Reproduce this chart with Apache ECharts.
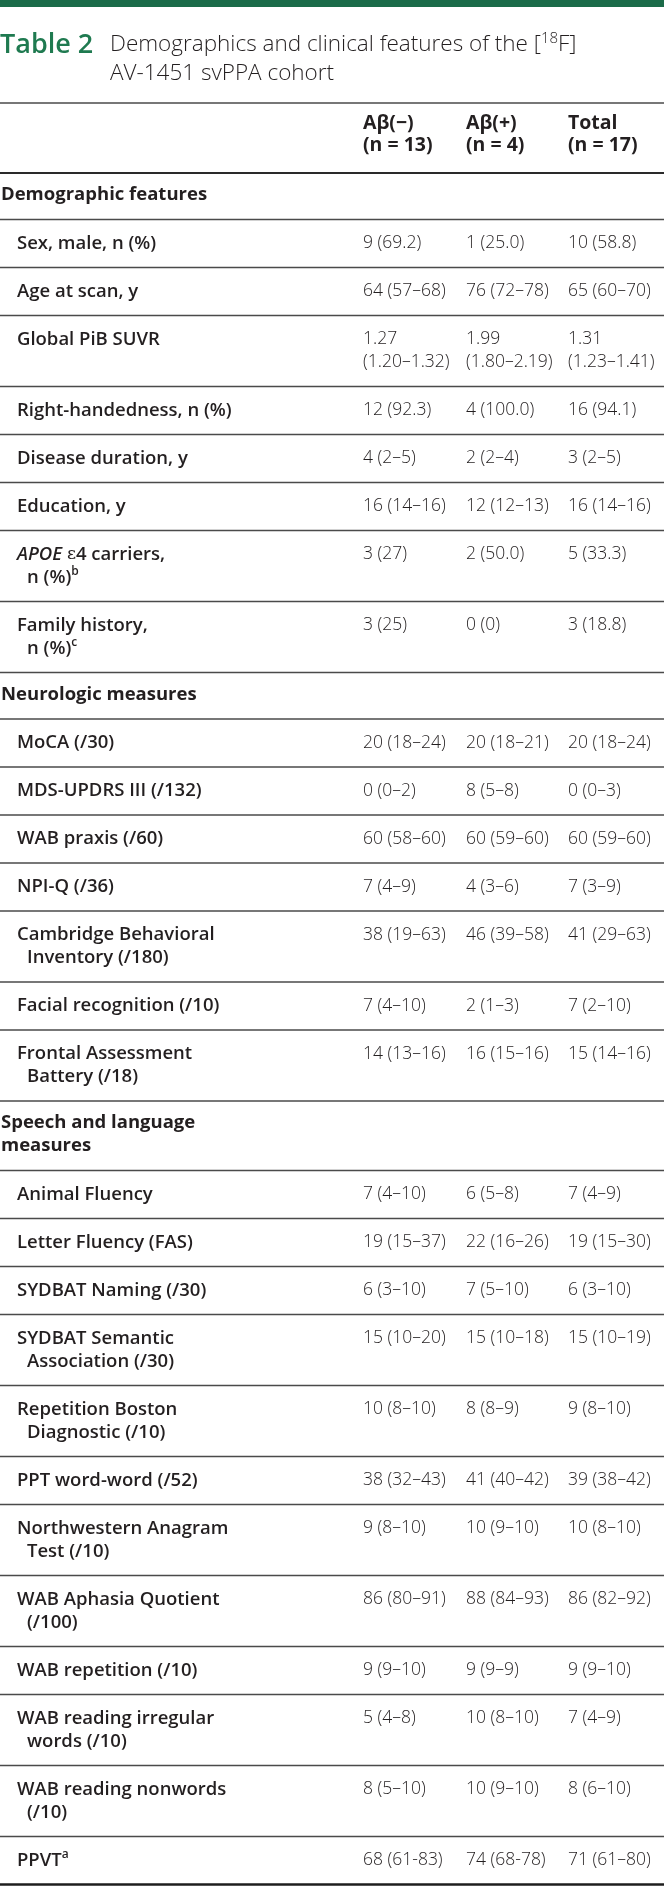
<!DOCTYPE html>
<html>
<head>
<meta charset="utf-8">
<script src="https://cdn.jsdelivr.net/npm/echarts@6/dist/echarts.min.js"></script>
<style>
html,body{margin:0;padding:0;background:#fff;}
#chart{width:664px;height:1886px;}
</style>
</head>
<body>
<div id="chart"></div>
<script>
// ---------------- DATA ----------------
const titleLead = "Table 2";
const titleLine1 = ["Demographics and clinical features of the [", "18", "F]"];
const titleLine2 = "AV-1451 svPPA cohort";

const groupNames = ["Aβ(−)", "Aβ(+)", "Total"];
const groupSizes = ["(n = 13)", "(n = 4)", "(n = 17)"];

const sectionNames = [
  ["Demographic features"],
  ["Neurologic measures"],
  ["Speech and language", "measures"]
];

const itemSection = [0,0,0,0,0,0,0,0, 1,1,1,1,1,1,1, 2,2,2,2,2,2,2,2,2,2,2,2];

const itemLabels = [
  ["Sex, male, n (%)"],
  ["Age at scan, y"],
  ["Global PiB SUVR"],
  ["Right-handedness, n (%)"],
  ["Disease duration, y"],
  ["Education, y"],
  ["APOE ε4 carriers,", "n (%)"],
  ["Family history,", "n (%)"],
  ["MoCA (/30)"],
  ["MDS-UPDRS III (/132)"],
  ["WAB praxis (/60)"],
  ["NPI-Q (/36)"],
  ["Cambridge Behavioral", "Inventory (/180)"],
  ["Facial recognition (/10)"],
  ["Frontal Assessment", "Battery (/18)"],
  ["Animal Fluency"],
  ["Letter Fluency (FAS)"],
  ["SYDBAT Naming (/30)"],
  ["SYDBAT Semantic", "Association (/30)"],
  ["Repetition Boston", "Diagnostic (/10)"],
  ["PPT word-word (/52)"],
  ["Northwestern Anagram", "Test (/10)"],
  ["WAB Aphasia Quotient", "(/100)"],
  ["WAB repetition (/10)"],
  ["WAB reading irregular", "words (/10)"],
  ["WAB reading nonwords", "(/10)"],
  ["PPVT"]
];

const itemNotes = ["","","","","","","b","c","","","","","","","","","","","","","","","","","","","a"];

const abNeg = [
  "9 (69.2)", "64 (57–68)", "1.27\n(1.20–1.32)", "12 (92.3)", "4 (2–5)", "16 (14–16)", "3 (27)", "3 (25)",
  "20 (18–24)", "0 (0–2)", "60 (58–60)", "7 (4–9)", "38 (19–63)", "7 (4–10)", "14 (13–16)",
  "7 (4–10)", "19 (15–37)", "6 (3–10)", "15 (10–20)", "10 (8–10)", "38 (32–43)", "9 (8–10)",
  "86 (80–91)", "9 (9–10)", "5 (4–8)", "8 (5–10)", "68 (61-83)"
];
const abPos = [
  "1 (25.0)", "76 (72–78)", "1.99\n(1.80–2.19)", "4 (100.0)", "2 (2–4)", "12 (12–13)", "2 (50.0)", "0 (0)",
  "20 (18–21)", "8 (5–8)", "60 (59–60)", "4 (3–6)", "46 (39–58)", "2 (1–3)", "16 (15–16)",
  "6 (5–8)", "22 (16–26)", "7 (5–10)", "15 (10–18)", "8 (8–9)", "41 (40–42)", "10 (9–10)",
  "88 (84–93)", "9 (9–9)", "10 (8–10)", "10 (9–10)", "74 (68-78)"
];
const totalAll = [
  "10 (58.8)", "65 (60–70)", "1.31\n(1.23–1.41)", "16 (94.1)", "3 (2–5)", "16 (14–16)", "5 (33.3)", "3 (18.8)",
  "20 (18–24)", "0 (0–3)", "60 (59–60)", "7 (3–9)", "41 (29–63)", "7 (2–10)", "15 (14–16)",
  "7 (4–9)", "19 (15–30)", "6 (3–10)", "15 (10–19)", "9 (8–10)", "39 (38–42)", "10 (8–10)",
  "86 (82–92)", "9 (9–10)", "7 (4–9)", "8 (6–10)", "71 (61–80)"
];

// ---------------- LAYOUT / STYLE ----------------
const W = 664, H = 1886;
const FONT = "'Open Sans', 'Noto Sans', sans-serif";
const INK = '#231f20';
const GREEN = '#1f7a50';
const BAR = '#1b6b49';
const L = {
  tableTop: 103, headerH: 70, headerPad: 9, headerLH: 22,
  lh: 23, itemPadTop: 12.5, itemPad: 25,
  secPadTop: 10.5, secPad: 23.5,
  labelX: 17, contX: 27, secX: 1,
  colX: [363, 466, 568],
  fsLabel: 18.5, fsVal: 17.5, fsHead: 19.5, fsSec: 18.5,
  titleLeadFs: 27, titleFs: 22.5
};

// build row list from data
const rows = [];
let cursor = L.tableTop;
rows.push({kind: 'header', top: cursor, h: L.headerH});
cursor += L.headerH;
sectionNames.forEach((sec, s) => {
  const hs = sec.length * L.lh + L.secPad;
  rows.push({kind: 'section', top: cursor, h: hs, label: sec});
  cursor += hs;
  itemLabels.forEach((lab, i) => {
    if (itemSection[i] !== s) return;
    const vals = [abNeg[i], abPos[i], totalAll[i]];
    const n = Math.max(lab.length, ...vals.map(v => v.split('\n').length));
    const h = n * L.lh + L.itemPad;
    rows.push({kind: 'item', top: cursor, h: h, label: lab, note: itemNotes[i], vals: vals});
    cursor += h;
  });
});
const lastIdx = rows.length - 1;

const richLabel = {
  it: {fontStyle: 'italic', fontWeight: 600, fontFamily: FONT, fontSize: L.fsLabel, fill: INK, lineHeight: L.lh},
  eps: {fontWeight: 'normal', fontFamily: "'DejaVu Serif', serif", fontSize: L.fsLabel - 1, fill: INK, lineHeight: L.lh},
  sup: {fontWeight: 600, fontFamily: FONT, fontSize: 12, fill: INK, lineHeight: 12, verticalAlign: 'top'}
};

function fmtLabel(line, note, isLast) {
  let t = line.replace('APOE', '{it|APOE}').replace('ε', '{eps|ε}');
  if (isLast && note) t += '{sup|' + note + '}';
  return t;
}

function txt(p, text, weight, size, extra) {
  return {
    type: 'text', x: p[0], y: p[1],
    style: Object.assign({
      text: text, fill: INK, fontFamily: FONT, fontSize: size, fontWeight: weight,
      align: 'left', verticalAlign: 'middle', lineHeight: L.lh
    }, extra || {})
  };
}
function hline(api, y, lw, color) {
  const a = api.coord([0, y]), b = api.coord([W, y]);
  return {type: 'line', shape: {x1: a[0], y1: a[1], x2: b[0], y2: b[1]}, style: {stroke: color, lineWidth: lw}};
}

function renderItem(params, api) {
  const r = rows[api.value(0)];
  const ch = [];
  if (r.kind === 'header') {
    ch.push(hline(api, r.top, 1.6, '#4a4a4a'));
    for (let k = 0; k < 3; k++) {
      ch.push(txt(api.coord([L.colX[k], r.top + L.headerPad + L.headerLH / 2]), groupNames[k], 700, L.fsHead));
      ch.push(txt(api.coord([L.colX[k], r.top + L.headerPad + L.headerLH * 1.5]), groupSizes[k], 700, L.fsHead));
    }
    ch.push(hline(api, r.top + r.h, 2, '#2a2a2a'));
  } else if (r.kind === 'section') {
    r.label.forEach((ln, j) => {
      ch.push(txt(api.coord([L.secX, r.top + L.secPadTop + L.lh / 2 + j * L.lh]), ln, 700, L.fsSec));
    });
    ch.push(hline(api, r.top + r.h, 1.6, '#4a4a4a'));
  } else {
    r.label.forEach((ln, j) => {
      const x = j === 0 ? L.labelX : L.contX;
      ch.push(txt(api.coord([x, r.top + L.itemPadTop + L.lh / 2 + j * L.lh]),
        fmtLabel(ln, r.note, j === r.label.length - 1), 600, L.fsLabel, {rich: richLabel}));
    });
    r.vals.forEach((v, k) => {
      v.split('\n').forEach((ln, j) => {
        ch.push(txt(api.coord([L.colX[k], r.top + L.itemPadTop + L.lh / 2 + j * L.lh]), ln, 300, L.fsVal));
      });
    });
    const isLast = api.value(0) === lastIdx;
    ch.push(hline(api, isLast ? Math.min(r.top + r.h, H - 1.5) : r.top + r.h,
      isLast ? 2.6 : 1.6, isLast ? '#1e1e1e' : '#4a4a4a'));
  }
  return {type: 'group', children: ch};
}

const chart = echarts.init(document.getElementById('chart'), null, {renderer: 'canvas'});
chart.setOption({
  animation: false,
  backgroundColor: '#ffffff',
  grid: {left: 0, right: 0, top: 0, bottom: 0},
  xAxis: {type: 'value', min: 0, max: W, show: false},
  yAxis: {type: 'value', min: 0, max: H, inverse: true, show: false},
  graphic: [
    {type: 'rect', left: 0, top: 0, shape: {width: W, height: 7}, style: {fill: BAR}},
    {type: 'text', x: 0, y: 45, style: {text: titleLead, fill: GREEN, fontFamily: FONT, fontSize: L.titleLeadFs, fontWeight: 600, verticalAlign: 'middle'}},
    {type: 'text', x: 110, y: 45, style: {
      text: titleLine1[0] + '{sup|' + titleLine1[1] + '}' + titleLine1[2],
      fill: INK, fontFamily: FONT, fontSize: L.titleFs, fontWeight: 300, lineHeight: 28, verticalAlign: 'middle',
      rich: {sup: {fontSize: 15, fontWeight: 300, fontFamily: FONT, fill: INK, lineHeight: 14, verticalAlign: 'top'}}
    }},
    {type: 'text', x: 110, y: 74, style: {text: titleLine2, fill: INK, fontFamily: FONT, fontSize: L.titleFs, fontWeight: 300, verticalAlign: 'middle'}}
  ],
  series: [{
    type: 'custom',
    coordinateSystem: 'cartesian2d',
    silent: true,
    clip: false,
    renderItem: renderItem,
    encode: {x: 0, y: 1},
    data: rows.map((r, i) => [i, r.top])
  }]
});
</script>
</body>
</html>
